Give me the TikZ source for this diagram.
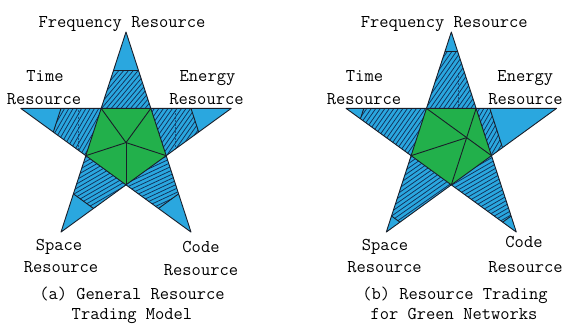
\documentclass[tikz,border=0pt]{standalone}
\usepackage{fontspec}
\usetikzlibrary{calc}
\definecolor{starblue}{HTML}{2AA7DF}
\definecolor{stargreen}{HTML}{22B04B}
\definecolor{hatchcol}{HTML}{12315A}
\definecolor{edgecol}{HTML}{1A1F2A}
\newcommand{\Rout}{110.6}
\newcommand{\Rin}{42.25}
\tikzset{
  edge/.style={draw=edgecol, line width=0.9pt, line join=round},
  hatchline/.style={draw=hatchcol, line width=0.75pt},
  seamline/.style={draw=hatchcol, line width=0.5pt, dash pattern=on 2pt off 1.5pt, opacity=0.7},
  lbl/.style={font=\fontsize{18}{22}\selectfont\ttfamily, inner sep=0pt, anchor=base, text=black}
}
% #1 prefix, #2 arm angle, #3 fraction hatched from base, #4 hatch angle
\newcommand{\stararm}[4]{%
  \coordinate (#1T) at (#2:\Rout);
  \coordinate (#1V1) at (#2+36:\Rin);
  \coordinate (#1V2) at (#2-36:\Rin);
  \coordinate (#1P1) at ($(#1V1)!#3!(#1T)$);
  \coordinate (#1P2) at ($(#1V2)!#3!(#1T)$);
  \begin{scope}
    \clip (#1V1) -- (#1P1) -- (#1P2) -- (#1V2) -- cycle;
    \foreach \k in {-32,...,32} {\draw[hatchline, rotate=#4] (-125,\k*3.7) -- (125,\k*3.7);}
  \end{scope}
}
\newcommand{\starbase}{%
  \fill[starblue] (90:\Rout) -- (126:\Rin) -- (162:\Rout) -- (198:\Rin) -- (234:\Rout) -- (270:\Rin) -- (306:\Rout) -- (342:\Rin) -- (18:\Rout) -- (54:\Rin) -- cycle;
}
\newcommand{\staroutline}{%
  \draw[edge] (90:\Rout) -- (126:\Rin) -- (162:\Rout) -- (198:\Rin) -- (234:\Rout) -- (270:\Rin) -- (306:\Rout) -- (342:\Rin) -- (18:\Rout) -- (54:\Rin) -- cycle;
}
\newcommand{\pentagon}{%
  \filldraw[fill=stargreen, edge] (126:\Rin) -- (198:\Rin) -- (270:\Rin) -- (342:\Rin) -- (54:\Rin) -- cycle;
}
\begin{document}
\begin{tikzpicture}[x=1pt, y=-1pt]
\useasboundingbox (0,0) rectangle (564,324);
\fill[white] (0,0) rectangle (564,324);

% ---------- star (a) ----------
\begin{scope}[shift={(126,142.6)}, y=1pt]
  \starbase
  \stararm{aU}{90}{0.5}{50}
  \stararm{aL}{162}{0.5}{60}
  \stararm{aBL}{234}{0.5}{30}
  \stararm{aBR}{306}{0.5}{25}
  \stararm{aR}{18}{0.5}{55}
  \begin{scope}
    \clip (aLV1) -- (aLP1) -- (aLP2) -- (aLV2) -- cycle;
    \draw[seamline] (-48,-60) -- (-48,60);
  \end{scope}
  \begin{scope}
    \clip (aRV1) -- (aRP1) -- (aRP2) -- (aRV2) -- cycle;
    \draw[seamline] (49,-60) -- (49,60);
  \end{scope}
  \pentagon
  \coordinate (aC) at (0,0);
  \foreach \a in {126,198,270,342,54} {\draw[edge] (aC) -- (\a:\Rin);}
  \foreach \p in {aU,aL,aBL,aBR,aR} {\draw[edge] (\p P1) -- (\p P2);}
  \staroutline
\end{scope}

% ---------- star (b) ----------
\begin{scope}[shift={(451.3,142.6)}, y=1pt]
  \starbase
  \stararm{bU}{90}{0.742}{55}
  \stararm{bL}{162}{0.78}{55}
  \stararm{bBL}{234}{0.79}{35}
  \stararm{bBR}{306}{0.79}{30}
  \stararm{bR}{18}{0.17}{60}
  \begin{scope}
    \clip (bUV1) -- (bUP1) -- (bUP2) -- (bUV2) -- cycle;
    \draw[seamline] (7,70) -- (7,30);
  \end{scope}
  \pentagon
  \coordinate (bTL) at (126:\Rin);
  \coordinate (bTR) at (54:\Rin);
  \coordinate (bLL) at (198:\Rin);
  \coordinate (bBB) at (270:\Rin);
  \coordinate (bRR) at (342:\Rin);
  \coordinate (bX) at (intersection of bTL--bRR and bTR--bBB);
  \draw[edge] (bTL) -- (bRR);
  \draw[edge] (bTR) -- (bBB);
  \draw[edge] (bLL) -- (bX);
  \foreach \p in {bU,bL,bBL,bBR,bR} {\draw[edge] (\p P1) -- (\p P2);}
  \staroutline
\end{scope}

% ---------- labels (a) ----------
\node[lbl] (aFreq) at (122,27) {Frequency Resource};
\node[lbl] (aTime1) at (45,81) {Time};
\node[lbl] (aTime2) at (44,104) {Resource};
\node[lbl] (aEn1) at (207.5,81) {Energy};
\node[lbl] (aEn2) at (206.5,104) {Resource};
\node[lbl] (aSp1) at (59,250) {Space};
\node[lbl] (aSp2) at (61,272) {Resource};
\node[lbl] (aCo1) at (201,252.5) {Code};
\node[lbl] (aCo2) at (201,275) {Resource};
\node[lbl] (aCap1) at (132,299.5) {(a) General Resource};
\node[lbl] (aCap2) at (132,319.5) {Trading Model};

% ---------- labels (b) ----------
\node[lbl] (bFreq) at (444.3,27) {Frequency Resource};
\node[lbl] (bTime1) at (364.5,81) {Time};
\node[lbl] (bTime2) at (364,104) {Resource};
\node[lbl] (bEn1) at (525.3,81) {Energy};
\node[lbl] (bEn2) at (525.5,104) {Resource};
\node[lbl] (bSp1) at (385,250) {Space};
\node[lbl] (bSp2) at (384.5,272) {Resource};
\node[lbl] (bCo1) at (524,247) {Code};
\node[lbl] (bCo2) at (525.5,272) {Resource};
\node[lbl] (bCap1) at (455,299.5) {(b) Resource Trading};
\node[lbl] (bCap2) at (454,319.5) {for Green Networks};
\end{tikzpicture}
\end{document}
